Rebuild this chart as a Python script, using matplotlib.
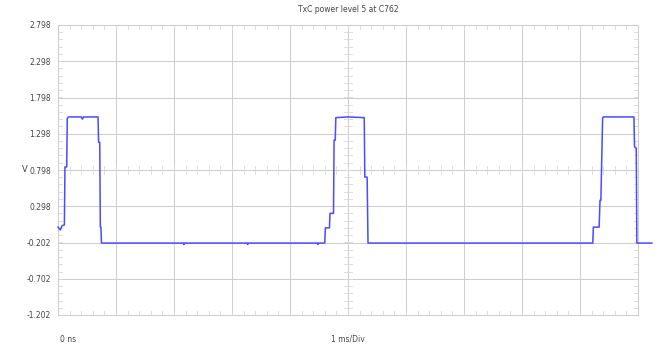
import matplotlib
matplotlib.use("Agg")
import matplotlib.pyplot as plt
import numpy as np

# Trace samples (time in ms, level in V)
time_ms = [0.00, 0.04, 0.07, 0.11, 0.12, 0.15, 0.16, 0.18, 0.40, 0.42, 0.44, 0.69,
           0.70, 0.72, 0.73, 0.74, 0.75,
           2.16, 2.17, 2.18, 3.26, 3.27, 3.28, 4.47, 4.48, 4.49,
           4.60, 4.61, 4.68, 4.69, 4.75, 4.76, 4.78, 4.79, 5.00, 5.28, 5.29, 5.33, 5.345,
           9.22, 9.23, 9.33, 9.345, 9.36, 9.39, 9.40, 9.93, 9.94, 9.97, 9.98, 10.24]
volts = [0.01, -0.03, 0.03, 0.04, 0.84, 0.84, 1.51, 1.53, 1.53, 1.50, 1.53, 1.53,
         1.18, 1.18, 0.01, 0.01, -0.21,
         -0.21, -0.23, -0.21, -0.21, -0.23, -0.21, -0.21, -0.23, -0.21,
         -0.21, 0.00, 0.00, 0.20, 0.20, 1.21, 1.21, 1.52, 1.53, 1.52, 0.70, 0.70, -0.21,
         -0.21, 0.01, 0.01, 0.38, 0.38, 1.51, 1.53, 1.53, 1.12, 1.10, -0.21, -0.21]

y_ticks = [-1.202, -0.702, -0.202, 0.298, 0.798, 1.298, 1.798, 2.298, 2.798]
x_divs = np.arange(0, 11)

grid_col = "#cccccc"
minor_col = "#d8d8d8"
text_col = "#444444"

fig = plt.figure(figsize=(6.63, 3.47), dpi=100)
ax = fig.add_axes([58 / 663, 1 - 315 / 347, 580 / 663, 290 / 347])

ax.set_xlim(0, 10)
ax.set_ylim(-1.202, 2.798)
ax.set_xticks(x_divs)
ax.set_xticklabels([])
ax.set_yticks(y_ticks)
ax.set_yticklabels(["%.3f" % v for v in y_ticks], fontsize=5.5, color=text_col)
ax.tick_params(length=0, pad=5)
ax.grid(True, color=grid_col, lw=0.7)
for s in ax.spines.values():
    s.set_color(grid_col)
    s.set_linewidth(0.7)

# graticule minor ticks (5 per division) on center lines and edges
xm = np.arange(0, 10.001, 0.2)
ym = np.arange(-1.202, 2.799, 0.1)
dx, dy = 0.07, 0.055
xc, yc = 5.0, 0.798
for x in xm:
    ax.plot([x, x], [yc - dy, yc + dy], color=minor_col, lw=0.6)
    ax.plot([x, x], [2.798, 2.798 - dy], color=minor_col, lw=0.6)
    ax.plot([x, x], [-1.202, -1.202 + dy], color=minor_col, lw=0.6)
for y in ym:
    ax.plot([xc - dx, xc + dx], [y, y], color=minor_col, lw=0.6)
    ax.plot([0, dx], [y, y], color=minor_col, lw=0.6)
    ax.plot([10 - dx, 10], [y, y], color=minor_col, lw=0.6)

ax.plot(time_ms, volts, color="#4b4bff", lw=1.1, clip_on=False, zorder=5)

ax.set_title("TxC power level 5 at C762", fontsize=5.5, color=text_col, pad=9)
fig.text(22 / 663, 1 - 170 / 347, "V", fontsize=6, color=text_col, va="center")
fig.text(60 / 663, 1 - 339 / 347, "0 ns", fontsize=5.5, color=text_col, va="center")
fig.text(348 / 663, 1 - 339 / 347, "1 ms/Div", fontsize=5.5, color=text_col,
         va="center", ha="center")

fig.savefig("out.png", dpi=100)
